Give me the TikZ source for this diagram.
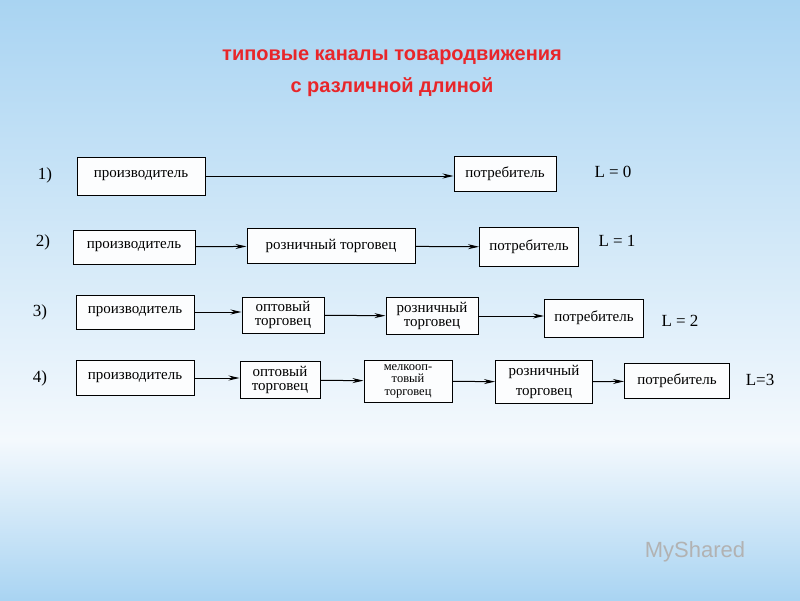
\documentclass[tikz,border=0pt]{standalone}
\usepackage{fontspec}
\setmainfont{Liberation Serif}
\newfontfamily\titlefont{Liberation Sans}
\usetikzlibrary{arrows.meta}
\definecolor{skyA}{HTML}{A9D4F2}
\definecolor{skyB}{HTML}{F4F9FD}
\definecolor{ttl}{HTML}{E8262A}
\begin{document}
\begin{tikzpicture}[x=1pt,y=-1pt,
  bx/.style={draw=black,line width=1pt,fill=white!70!skyB,inner sep=0pt,font=\fontsize{15}{14}\selectfont,align=center},
  ar/.style={-{Stealth[length=11pt,width=5pt]},line width=1pt},
  lab/.style={font=\fontsize{17}{17}\selectfont}]
\useasboundingbox (0,0) rectangle (800,600);
\shade[top color=skyA,bottom color=skyB] (0,0) rectangle (800,440);
\shade[top color=skyB,bottom color=skyA] (0,440) rectangle (800,600);
\node[font=\titlefont\bfseries\fontsize{20}{32}\selectfont,text=ttl,align=center] (title) at (392,73) {типовые каналы товародвижения\\с различной длиной};
% row 1
\node[bx,minimum width=128pt,minimum height=38pt] (p1) at (141,176) {производитель};
\node[bx,minimum width=102pt,minimum height=35pt] (c1) at (505,174) {потребитель};
\node[lab] (n1) at (45,175) {1)};
\node[lab] (l1) at (613,172) {L = 0};
\draw[ar] (p1) -- (c1.west|-p1);
% row 2
\node[bx,minimum width=122pt,minimum height=34pt] (p2) at (134,247) {производитель};
\node[bx,minimum width=168pt,minimum height=35pt] (r2) at (331,246) {розничный торговец};
\node[bx,minimum width=99pt,minimum height=39pt] (c2) at (529,247) {потребитель};
\node[lab] (n2) at (43,242) {2)};
\node[lab] (l2) at (617,241) {L = 1};
\draw[ar] (p2) -- (r2);
\draw[ar] (r2) -- (c2);
% row 3
\node[bx,minimum width=118pt,minimum height=34pt] (p3) at (135,312) {производитель};
\node[bx,minimum width=82pt,minimum height=36pt] (o3) at (283,315) {оптовый\\торговец};
\node[bx,minimum width=92pt,minimum height=37pt] (r3) at (432,316) {розничный\\торговец};
\node[bx,minimum width=99pt,minimum height=38pt] (c3) at (594,318) {потребитель};
\node[lab] (n3) at (40,312) {3)};
\node[lab] (l3) at (680,321) {L = 2};
\draw[ar] (p3) -- (o3.west|-p3);
\draw[ar] (o3) -- (r3);
\draw[ar] (r3) -- (c3.west|-r3);
% row 4
\node[bx,minimum width=118pt,minimum height=35pt] (p4) at (135,378) {производитель};
\node[bx,minimum width=80pt,minimum height=37pt] (o4) at (280,380) {оптовый\\торговец};
\node[bx,minimum width=88pt,minimum height=42pt,font=\fontsize{12.5}{12.5}\selectfont] (m4) at (408,381) {мелкооп-\\товый\\торговец};
\node[bx,minimum width=97pt,minimum height=43pt,font=\fontsize{15}{20}\selectfont] (r4) at (544,382) {розничный\\торговец};
\node[bx,minimum width=105pt,minimum height=35pt] (c4) at (677,381) {потребитель};
\node[lab] (n4) at (40,378) {4)};
\node[lab] (l4) at (760,380) {L=3};
\draw[ar] (p4) -- (o4.west|-p4);
\draw[ar] (o4) -- (m4);
\draw[ar] (m4) -- (r4);
\draw[ar] (r4) -- (c4);
\node[font=\titlefont\fontsize{22}{22}\selectfont,text=gray!60] (wm) at (695,552) {MyShared};
\end{tikzpicture}
\end{document}
